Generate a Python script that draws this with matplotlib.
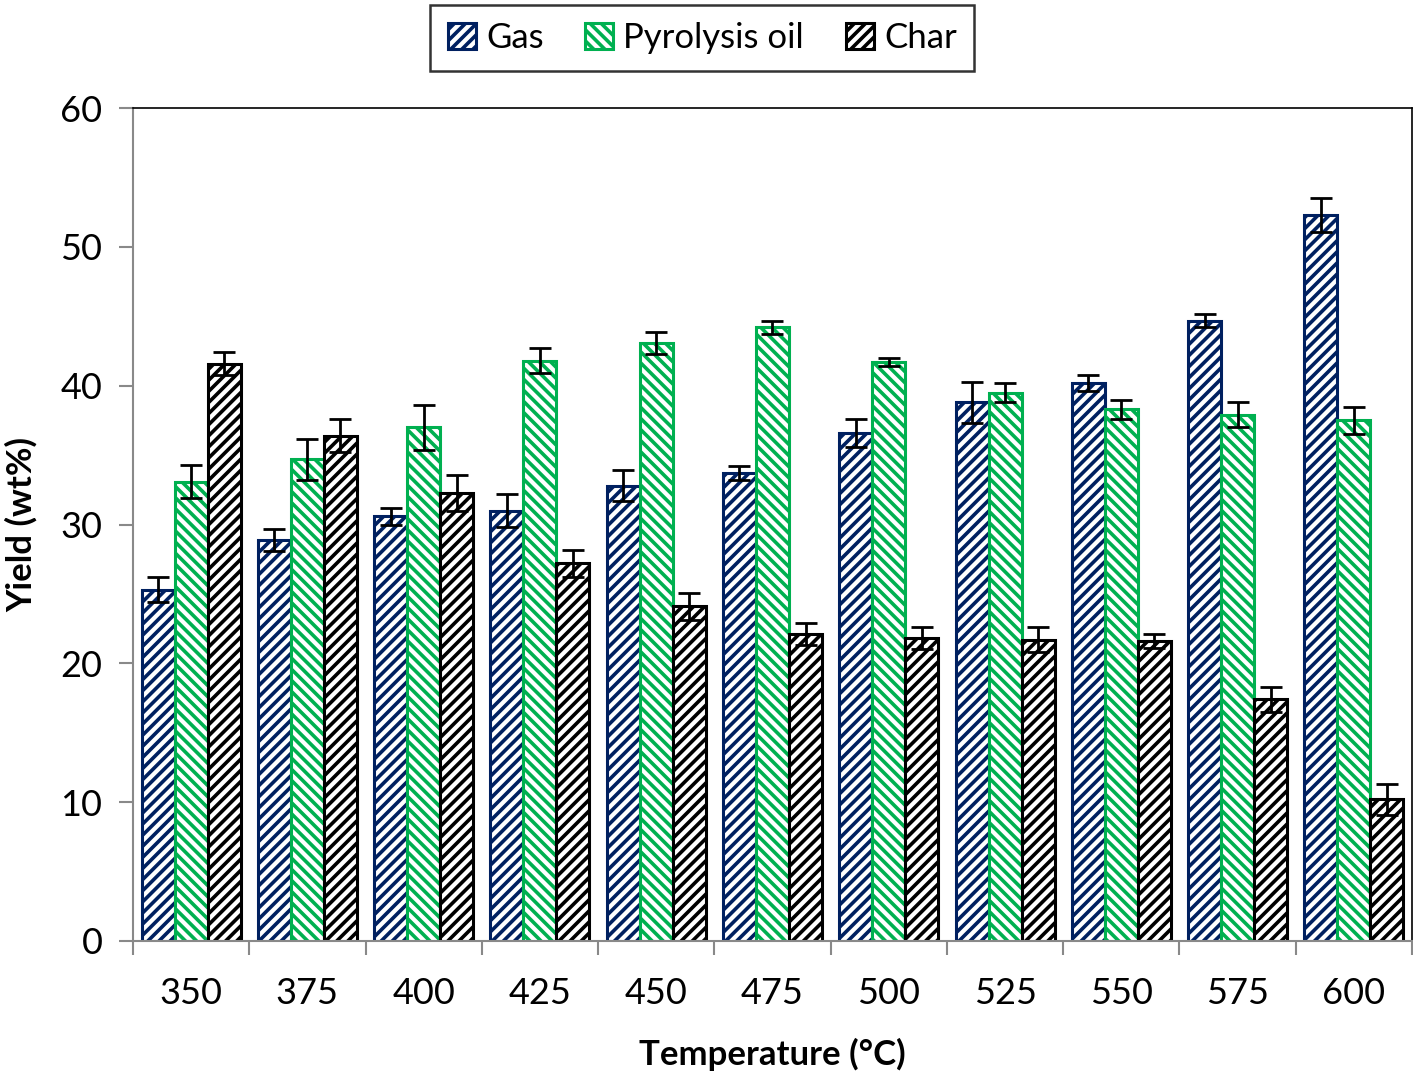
import numpy as np
import matplotlib.pyplot as plt
from matplotlib.ticker import FixedLocator

plt.rcParams['font.family'] = ['Lato', 'DejaVu Sans']
plt.rcParams['hatch.linewidth'] = 2.6

temps = ['350', '375', '400', '425', '450', '475', '500', '525', '550', '575', '600']
gas = [25.3, 28.9, 30.6, 31.0, 32.8, 33.7, 36.6, 38.8, 40.2, 44.7, 52.3]
gas_err = [0.9, 0.8, 0.6, 1.2, 1.1, 0.5, 1.0, 1.5, 0.6, 0.5, 1.2]
oil = [33.1, 34.7, 37.0, 41.8, 43.1, 44.2, 41.7, 39.5, 38.3, 37.9, 37.5]
oil_err = [1.2, 1.5, 1.6, 0.9, 0.8, 0.5, 0.3, 0.7, 0.7, 0.9, 1.0]
char = [41.6, 36.4, 32.3, 27.2, 24.1, 22.1, 21.8, 21.7, 21.6, 17.4, 10.2]
char_err = [0.8, 1.2, 1.3, 1.0, 1.0, 0.8, 0.8, 0.9, 0.5, 0.9, 1.1]

fig = plt.figure(figsize=(14.13, 10.71), dpi=100)
ax = fig.add_axes([0.0941, 0.1214, 0.9052, 0.7776])

x = np.arange(len(temps))
w = 0.284
series = [
    ('Gas', gas, gas_err, '#002060', '///'),
    ('Pyrolysis oil', oil, oil_err, '#00B050', '\\\\\\'),
    ('Char', char, char_err, '#000000', '///'),
]
for i, (name, vals, err, col, hat) in enumerate(series):
    ax.bar(x + (i - 1) * w, vals, w, color='white', edgecolor=col, hatch=hat,
           linewidth=2.2, label=name,
           yerr=err, error_kw=dict(ecolor='black', elinewidth=2, capsize=8, capthick=2))

ax.set_xlim(-0.5, len(temps) - 0.5)
ax.set_ylim(0, 60)
ax.set_yticks(range(0, 61, 10))
ax.set_xticks(x)
ax.set_xticklabels(temps)
ax.xaxis.set_minor_locator(FixedLocator(np.arange(-0.5, len(temps), 1)))
ax.tick_params(axis='x', which='major', length=0, pad=26, labelsize=26)
ax.tick_params(axis='x', which='minor', length=10, width=1.5, color='#898989')
ax.tick_params(axis='y', length=10, width=1.5, color='#898989', labelsize=26, pad=12)

for s in ['left', 'bottom']:
    ax.spines[s].set_color('#898989')
    ax.spines[s].set_linewidth(1.5)
for s in ['top', 'right']:
    ax.spines[s].set_color('black')
    ax.spines[s].set_linewidth(1.2)

ax.set_ylabel('Yield (wt%)', fontsize=25, fontweight='bold', labelpad=16)
ax.set_xlabel('Temperature (°C)', fontsize=25, fontweight='bold', labelpad=20)

leg = fig.legend(loc='upper center', bbox_to_anchor=(0.497, 0.999), ncol=3, fontsize=25,
                 frameon=True, fancybox=False, edgecolor='black',
                 handlelength=0.8, handleheight=0.8, handletextpad=0.3, columnspacing=1.2,
                 borderpad=0.5, borderaxespad=0.1)
leg.get_frame().set_linewidth(1.8)

fig.savefig('out.png', dpi=100)
